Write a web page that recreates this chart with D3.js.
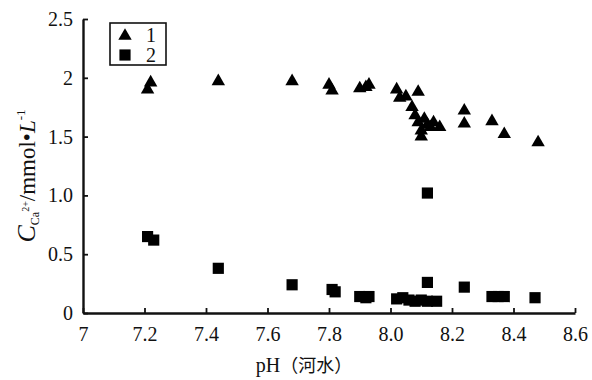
<!DOCTYPE html>
<html>
<head>
<meta charset="utf-8">
<script src="https://cdn.jsdelivr.net/npm/d3@7"></script>
<style>
  body { margin: 0; background: #fff; }
  text { font-family: "Liberation Serif", "DejaVu Serif", serif; fill: #111; }
</style>
</head>
<body>
<svg id="chart" width="592" height="380"></svg>
<script>
// series 1 (triangles)
var s1x = [7.21, 7.22, 7.44, 7.68, 7.80, 7.81, 7.90, 7.92, 7.93, 8.02, 8.03, 8.05, 8.09,
           8.07, 8.08, 8.09, 8.10, 8.10, 8.11, 8.12, 8.13, 8.14, 8.16, 8.24, 8.24, 8.33, 8.37, 8.48];
var s1y = [1.90, 1.96, 1.97, 1.97, 1.94, 1.89, 1.91, 1.92, 1.94, 1.90, 1.83, 1.84, 1.88,
           1.75, 1.68, 1.62, 1.55, 1.50, 1.65, 1.60, 1.58, 1.62, 1.58, 1.72, 1.61, 1.63, 1.52, 1.45];
// series 2 (squares)
var s2x = [7.21, 7.23, 7.44, 7.68, 7.81, 7.82, 7.90, 7.92, 7.93, 8.02, 8.04, 8.06, 8.08,
           8.10, 8.12, 8.15, 8.12, 8.12, 8.24, 8.33, 8.35, 8.37, 8.47];
var s2y = [0.65, 0.62, 0.38, 0.24, 0.20, 0.18, 0.14, 0.13, 0.14, 0.12, 0.13, 0.11, 0.10,
           0.11, 0.10, 0.10, 1.02, 0.26, 0.22, 0.14, 0.14, 0.14, 0.13];
var xTicks = [7, 7.2, 7.4, 7.6, 7.8, 8.0, 8.2, 8.4, 8.6];
var xTickLabels = ["7", "7.2", "7.4", "7.6", "7.8", "8.0", "8.2", "8.4", "8.6"];
var yTicks = [0, 0.5, 1.0, 1.5, 2, 2.5];
var yTickLabels = ["0", "0.5", "1.0", "1.5", "2", "2.5"];
var legendNames = ["1", "2"];

var svg = d3.select("#chart");
var x = d3.scaleLinear().domain([7, 8.6]).range([83, 575]);
var y = d3.scaleLinear().domain([0, 2.5]).range([313, 19]);

// axes
var xAxis = d3.axisBottom(x).tickValues(xTicks)
    .tickFormat(function(d, i) { return xTickLabels[i]; })
    .tickSizeInner(-5).tickSizeOuter(0).tickPadding(14);
var yAxis = d3.axisLeft(y).tickValues(yTicks)
    .tickFormat(function(d, i) { return yTickLabels[i]; })
    .tickSizeInner(-5).tickSizeOuter(0).tickPadding(10);

var gx = svg.append("g").attr("transform", "translate(0,313)").call(xAxis);
var gy = svg.append("g").attr("transform", "translate(83,0)").call(yAxis);
[gx, gy].forEach(function(g) {
  g.attr("font-family", "Liberation Serif").attr("font-size", 20);
  g.select(".domain").attr("stroke", "#111").attr("stroke-width", 2.4);
  g.selectAll(".tick line").attr("stroke", "#111").attr("stroke-width", 1.8);
  g.selectAll(".tick text")
    .style("font-family", "'Liberation Serif', serif")
    .style("font-size", "20px").attr("fill", "#111");
});
gx.selectAll(".tick text").attr("dy", "0.71em");

// triangles
var tri = d3.symbol().type(d3.symbolTriangle).size(78);
svg.append("g").selectAll("path").data(d3.range(s1x.length)).enter().append("path")
  .attr("d", tri)
  .attr("transform", function(i) { return "translate(" + x(s1x[i]) + "," + y(s1y[i]) + ")"; })
  .attr("fill", "#000");

// squares
var sq = d3.symbol().type(d3.symbolSquare).size(125);
svg.append("g").selectAll("path").data(d3.range(s2x.length)).enter().append("path")
  .attr("d", sq)
  .attr("transform", function(i) { return "translate(" + x(s2x[i]) + "," + y(s2y[i]) + ")"; })
  .attr("fill", "#000");

// legend
var lg = svg.append("g");
lg.append("rect").attr("x", 110).attr("y", 23).attr("width", 56).attr("height", 42)
  .attr("fill", "none").attr("stroke", "#111").attr("stroke-width", 1.6);
lg.append("path").attr("d", tri).attr("transform", "translate(125,36)").attr("fill", "#000");
lg.append("path").attr("d", sq).attr("transform", "translate(125,55)").attr("fill", "#000");
lg.selectAll("text").data(legendNames).enter().append("text")
  .attr("x", 151).attr("y", function(d, i) { return 42 + i * 20; })
  .style("font-size", "20px").attr("text-anchor", "middle").text(function(d) { return d; });

// y label
var yl = svg.append("text")
  .attr("transform", "translate(35,176) rotate(-90)")
  .attr("text-anchor", "middle").style("font-size", "23px");
yl.append("tspan").attr("font-style", "italic").style("font-size", "26px").text("C");
yl.append("tspan").style("font-size", "12px").attr("dy", 4).text("Ca");
yl.append("tspan").style("font-size", "10px").attr("dy", -10).text("2+");
yl.append("tspan").attr("dy", 6).text("/mmol\u2022");
yl.append("tspan").attr("font-style", "italic").text("L");
yl.append("tspan").style("font-size", "13px").attr("dy", -10).text("-1");

// x label
svg.append("text").attr("x", 304).attr("y", 372).attr("text-anchor", "middle")
  .style("font-size", "20px")
  .html('pH<tspan style="font-family:\'Noto Sans CJK SC\';font-size:18px">（河水）</tspan>');
</script>
</body>
</html>
